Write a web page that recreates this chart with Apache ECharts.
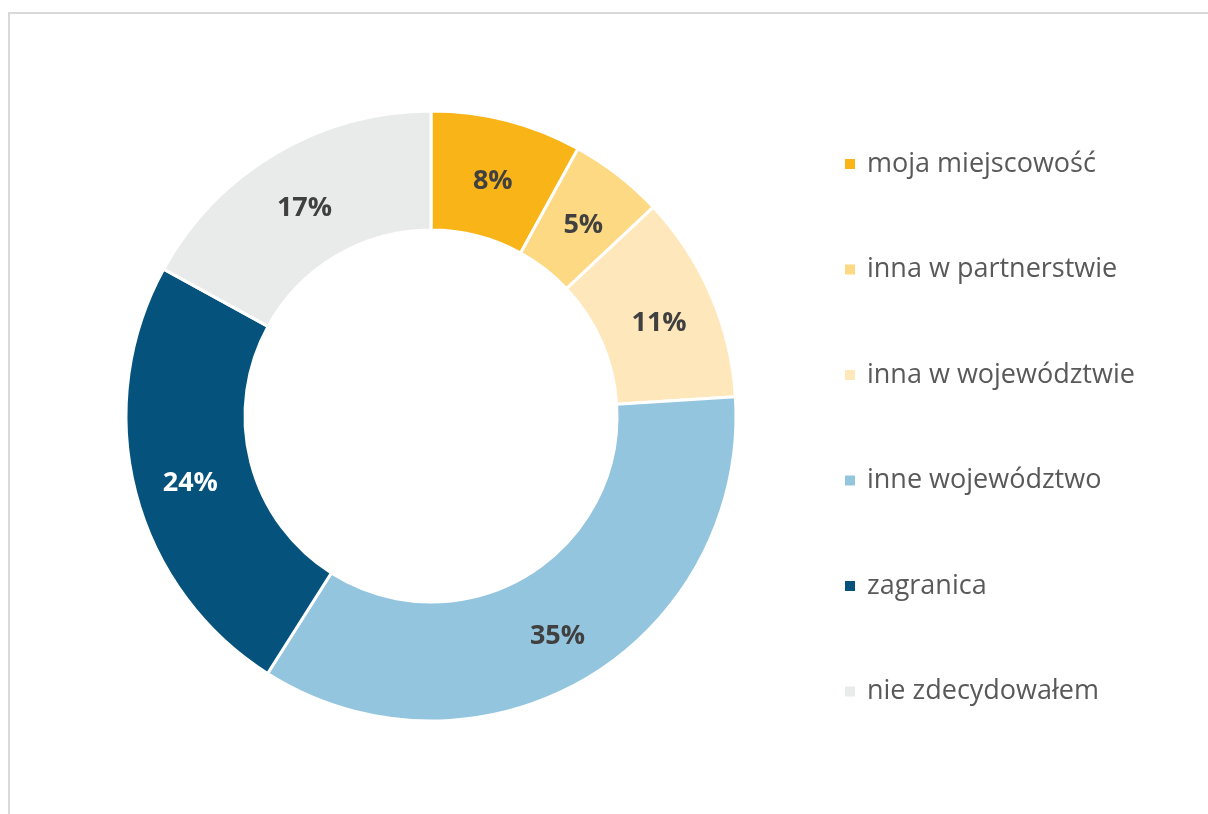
<!DOCTYPE html>
<html>
<head>
<meta charset="utf-8">
<script src="https://cdn.jsdelivr.net/npm/echarts@6/dist/echarts.min.js"></script>
<style>
  html, body { margin: 0; padding: 0; background: #fff; }
  #frame { position: absolute; left: 8px; top: 12px; width: 1300px; height: 900px;
           border-top: 2px solid #d9d9d9; border-left: 2px solid #d9d9d9; }
  #chart { position: absolute; left: 0; top: 0; width: 1208px; height: 814px; }
</style>
</head>
<body>
<div id="frame"></div>
<div id="chart"></div>
<script>
const categories = ['moja miejscowość', 'inna w partnerstwie', 'inna w województwie', 'inne województwo', 'zagranica', 'nie zdecydowałem'];
const shares = [8, 5, 11, 35, 24, 17];
const colors = ['#f9b418', '#fed983', '#fee8bb', '#94c5df', '#05527d', '#e9eaea'];
const labelColors = ['#404040', '#404040', '#404040', '#404040', '#ffffff', '#404040'];

const chart = echarts.init(document.getElementById('chart'), null, { renderer: 'canvas' });
chart.setOption({
  animation: false,
  color: colors,
  legend: {
    orient: 'vertical',
    left: 843,
    top: 149,
    padding: 0,
    itemWidth: 12,
    itemHeight: 12,
    itemGap: 75.5,
    icon: 'rect',
    textStyle: { fontFamily: 'Open Sans', fontSize: 27, color: '#595959', lineHeight: 30, padding: [0, 0, 0, 6] },
    data: categories
  },
  series: [{
    type: 'pie',
    center: [431, 416],
    radius: [186, 305],
    startAngle: 90,
    clockwise: true,
    itemStyle: { borderColor: '#ffffff', borderWidth: 3 },
    label: {
      position: 'inside',
      formatter: '{c}%',
      fontFamily: 'Open Sans',
      fontWeight: 'bold',
      fontSize: 27
    },
    labelLayout: { dy: 6 },
    labelLine: { show: false },
    emphasis: { disabled: true },
    data: categories.map((name, i) => ({
      name: name,
      value: shares[i],
      label: { color: labelColors[i] }
    }))
  }]
});
</script>
</body>
</html>
